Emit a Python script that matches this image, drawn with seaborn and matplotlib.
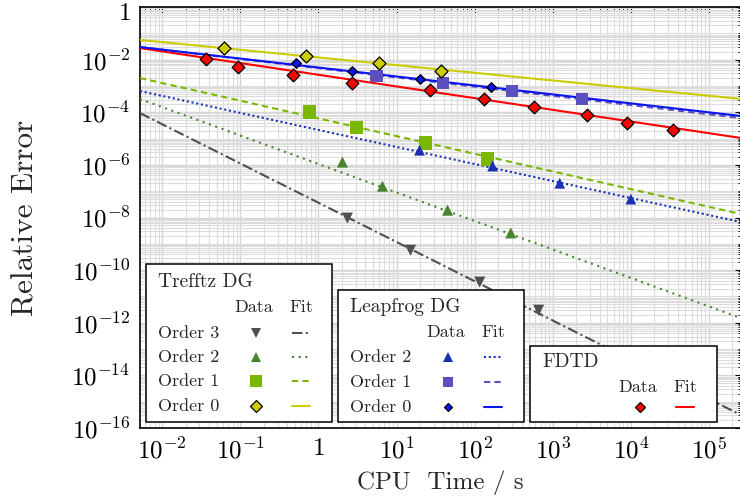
import numpy as np
import matplotlib
matplotlib.use("Agg")
import matplotlib.pyplot as plt
import matplotlib.transforms as mtransforms
import seaborn as sns
from matplotlib.lines import Line2D
from matplotlib.patches import Rectangle
from matplotlib.ticker import FixedLocator, LogLocator, FuncFormatter, NullFormatter

sns.set_style("white")
plt.rcParams["font.family"] = "serif"
plt.rcParams["font.serif"] = ["cmr10", "DejaVu Serif"]
plt.rcParams["mathtext.fontset"] = "cm"
plt.rcParams["axes.unicode_minus"] = False
plt.rcParams["axes.formatter.use_mathtext"] = True

# axis range
x_lim = [5.2e-3, 2.57e5]
y_lim = [1e-16, 1]

# Trefftz DG
tdg3_time = [2.35, 15.1, 116, 660]
tdg3_err = [9.5e-9, 5.7e-10, 3.5e-11, 3.0e-12]
tdg3_fit = [9.3e-5, 3.1e-16]

tdg2_time = [2.03, 6.6, 45, 290]
tdg2_err = [1.28e-6, 1.55e-7, 1.9e-8, 2.6e-9]
tdg2_fit = [3.2e-4, 1.5e-12]

tdg1_time = [0.767, 3.07, 23.5, 147]
tdg1_err = [1.02e-4, 2.7e-5, 6.7e-6, 1.66e-6]
tdg1_fit = [2.0e-3, 1.35e-8]

tdg0_time = [0.0624, 0.70, 5.88, 36.7]
tdg0_err = [2.76e-2, 1.37e-2, 7.4e-3, 3.7e-3]
tdg0_fit = [5.6e-2, 3.2e-4]

# Leapfrog DG
lf2_time = [19.7, 170, 1230, 1.0e4]
lf2_err = [3.6e-6, 9.0e-7, 2.0e-7, 5.0e-8]
lf2_fit = [6.4e-4, 6.7e-9]

lf1_time = [5.54, 38.9, 298, 2350]
lf1_err = [2.4e-3, 1.29e-3, 6.4e-4, 3.2e-4]
lf1_fit = [3.0e-2, 6.0e-5]

lf0_time = [0.522, 2.73, 19.7, 160]
lf0_err = [7.4e-3, 3.7e-3, 1.83e-3, 9.1e-4]
lf0_fit = [3.0e-2, 7.2e-5]

# FDTD
fdtd_time = [0.0366, 0.094, 0.478, 2.73, 26.5, 130, 570, 2730, 8890, 34500]
fdtd_err = [1.05e-2, 5.2e-3, 2.6e-3, 1.29e-3, 7.0e-4, 3.2e-4, 1.58e-4, 7.8e-5, 3.9e-5, 2.1e-5]
fdtd_fit = [2.75e-2, 1.05e-5]

# style per series: marker, size, color, edge, linestyle
styles = {
    "tdg3": dict(marker="v", s=64, color="#4f4f4f", edge=None, ls=(0, (5, 1.6, 1, 1.6))),
    "tdg2": dict(marker="^", s=64, color="#47862e", edge=None, ls=(0, (1, 2.2))),
    "tdg1": dict(marker="s", s=92, color="#7ab800", edge=None, ls=(0, (3, 2))),
    "tdg0": dict(marker="D", s=44, color="#cccc00", edge="black", ls="-"),
    "lf2": dict(marker="^", s=60, color="#1a2fb4", edge=None, ls=(0, (1, 1.3))),
    "lf1": dict(marker="s", s=76, color="#5b4fc2", edge=None, ls=(0, (3, 2))),
    "lf0": dict(marker="D", s=24, color="#0a14f0", edge="black", ls="-"),
    "fdtd": dict(marker="D", s=42, color="#ff0000", edge="black", ls="-"),
}

series = [
    ("tdg3", tdg3_time, tdg3_err, tdg3_fit),
    ("tdg2", tdg2_time, tdg2_err, tdg2_fit),
    ("tdg1", tdg1_time, tdg1_err, tdg1_fit),
    ("lf2", lf2_time, lf2_err, lf2_fit),
    ("lf1", lf1_time, lf1_err, lf1_fit),
    ("fdtd", fdtd_time, fdtd_err, fdtd_fit),
    ("lf0", lf0_time, lf0_err, lf0_fit),
    ("tdg0", tdg0_time, tdg0_err, tdg0_fit),
]

W, H = 740, 503
fig = plt.figure(figsize=(W / 100, H / 100), dpi=100)
ax = fig.add_axes([140 / W, (H - 428) / H, 601 / W, 421 / H])
ax.set_xscale("log")
ax.set_yscale("log")
ax.set_xlim(x_lim)
ax.set_ylim(y_lim)

for name, t, e, fit in series:
    st = styles[name]
    sns.lineplot(x=x_lim, y=fit, ax=ax, color=st["color"], linestyle=st["ls"],
                 linewidth=1.5, zorder=3)
for name, t, e, fit in series:
    st = styles[name]
    sns.scatterplot(x=t, y=e, ax=ax, marker=st["marker"], s=st["s"], color=st["color"],
                    edgecolor=st["edge"] if st["edge"] else "none",
                    linewidth=0.9 if st["edge"] else 0, zorder=4)


def fmt(v, pos):
    k = int(round(np.log10(v)))
    return "$1$" if k == 0 else "$10^{%d}$" % k


ax.xaxis.set_major_locator(FixedLocator([10.0 ** k for k in range(-2, 6)]))
ax.xaxis.set_minor_locator(LogLocator(base=10, subs=np.arange(2, 10), numticks=50))
ax.yaxis.set_major_locator(FixedLocator([10.0 ** k for k in range(-16, 1, 2)]))
ax.yaxis.set_minor_locator(LogLocator(base=10, subs=np.arange(1, 10), numticks=50))
ax.xaxis.set_major_formatter(FuncFormatter(fmt))
ax.yaxis.set_major_formatter(FuncFormatter(fmt))
ax.xaxis.set_minor_formatter(NullFormatter())
ax.yaxis.set_minor_formatter(NullFormatter())

ax.grid(which="major", color="#d6d6d6", linewidth=1.0, zorder=0)
ax.grid(which="minor", color="#dcdcdc", linewidth=0.8, zorder=0)
ax.set_axisbelow(True)
ax.tick_params(which="both", direction="in", top=True, right=True, labelsize=18, colors="black")
ax.tick_params(which="major", length=4, width=0.8, pad=7)
ax.tick_params(which="minor", length=2.2, width=0.6)
for sp in ax.spines.values():
    sp.set_color("black")
    sp.set_linewidth(1.2)

# the plain "1" on the y axis sits a little lower, like the other labels' digits
fig.canvas.draw()
shift = mtransforms.ScaledTranslation(0, -3.5 / 72, fig.dpi_scale_trans)
top_label = ax.yaxis.get_majorticklabels()[-1]
top_label.set_transform(top_label.get_transform() + shift)

ax.set_xlabel("CPU  Time / s", fontsize=18, labelpad=5)
ax.set_ylabel("Relative Error", fontsize=22.5, labelpad=23)


# legend boxes, drawn in figure pixel coordinates
def P(px, py):
    return px / W, 1 - py / H


def legend_box(box, title, title_pos, head_y, data_x, fit_x, rows):
    x0, y0, x1, y1 = box
    fx0, fy1 = P(x0, y1)
    fx1, fy0 = P(x1, y0)
    ax.add_patch(Rectangle((fx0, fy1), fx1 - fx0, fy0 - fy1, transform=fig.transFigure,
                           facecolor="white", edgecolor="black", linewidth=1.1,
                           clip_on=False, zorder=10))
    fig.text(*P(*title_pos), title, fontsize=14, ha="left", va="center", zorder=11)
    fig.text(*P(data_x, head_y), "Data", fontsize=13, ha="center", va="center", zorder=11)
    fig.text(*P(fit_x, head_y), "Fit", fontsize=13, ha="center", va="center", zorder=11)
    for label, name, ry in rows:
        st = styles[name]
        fig.text(*P(title_pos[0], ry), label, fontsize=13, ha="left", va="center", zorder=11)
        mx, my = P(data_x + 2, ry)
        ms = np.sqrt(st["s"]) * 0.85
        fig.add_artist(Line2D([mx], [my], transform=fig.transFigure, marker=st["marker"],
                              markersize=ms, color=st["color"],
                              markeredgecolor=st["edge"] if st["edge"] else st["color"],
                              markeredgewidth=0.9 if st["edge"] else 0, zorder=12))
        lx0, ly = P(fit_x - 9, ry)
        lx1, _ = P(fit_x + 9, ry)
        fig.add_artist(Line2D([lx0, lx1], [ly, ly], transform=fig.transFigure,
                              color=st["color"], linestyle=st["ls"], linewidth=1.5, zorder=12))


legend_box((146, 264, 332, 422), "Trefftz DG", (158, 282), 307, 254, 301,
           [("Order 3", "tdg3", 333), ("Order 2", "tdg2", 357),
            ("Order 1", "tdg1", 381), ("Order 0", "tdg0", 406)])
legend_box((338, 290, 524, 422), "Leapfrog DG", (350, 307), 332, 446, 493,
           [("Order 2", "lf2", 357), ("Order 1", "lf1", 382), ("Order 0", "lf0", 407)])
legend_box((530, 346, 717, 422), "FDTD", (542, 362), 387, 638, 685,
           [("", "fdtd", 407)])

fig.savefig("out.png", dpi=100)
